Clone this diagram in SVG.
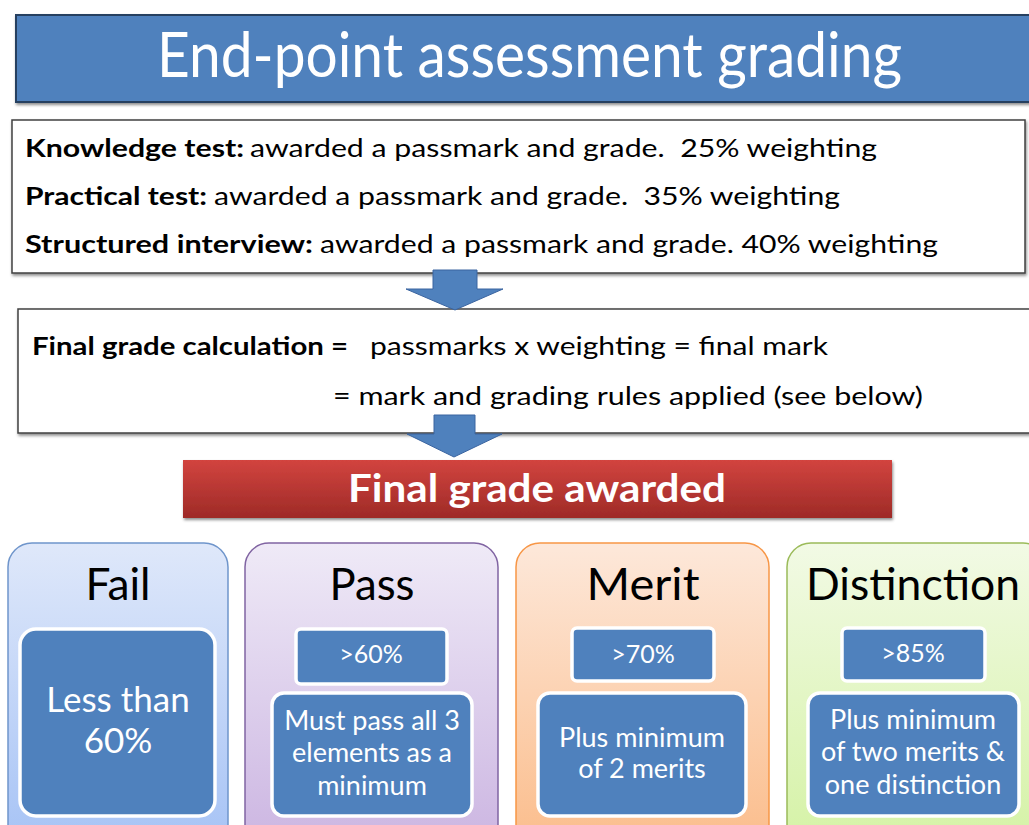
<svg xmlns="http://www.w3.org/2000/svg" width="1029" height="825" viewBox="0 0 1029 825">
<style>
.t{font-family:Lato,"Open Sans","Liberation Sans",sans-serif;}
.body{font-size:25px;fill:#000;white-space:pre;}
.b{font-weight:bold;}
.w{fill:#fff;}
.gt{font-size:44px;fill:#000;text-anchor:middle;}
.in{fill:#4F81BD;stroke:#fff;stroke-width:3.5;}
.lbl{font-size:27px;fill:#fff;text-anchor:middle;}
.pct{font-size:25px;}
.big{font-size:35px;}
.arr{fill:#4F81BD;stroke:#3A64A0;stroke-width:1;}
</style>
<defs>
<filter id="sh" x="-5%" y="-10%" width="110%" height="130%">
<feDropShadow dx="1" dy="2" stdDeviation="1.5" flood-color="#000" flood-opacity="0.45"/>
</filter>
<linearGradient id="gRed" x1="0" y1="0" x2="0" y2="1">
<stop offset="0" stop-color="#D2443F"/><stop offset="1" stop-color="#9E2A27"/>
</linearGradient>
<linearGradient id="gFail" x1="0" y1="0" x2="0" y2="1">
<stop offset="0" stop-color="#DFE8FA"/><stop offset="1" stop-color="#A5C2F5"/>
</linearGradient>
<linearGradient id="gPass" x1="0" y1="0" x2="0" y2="1">
<stop offset="0" stop-color="#EFEAF7"/><stop offset="1" stop-color="#CBB4E1"/>
</linearGradient>
<linearGradient id="gMerit" x1="0" y1="0" x2="0" y2="1">
<stop offset="0" stop-color="#FDE8DA"/><stop offset="1" stop-color="#FBBC8A"/>
</linearGradient>
<linearGradient id="gDist" x1="0" y1="0" x2="0" y2="1">
<stop offset="0" stop-color="#F2FAE5"/><stop offset="1" stop-color="#D4F2A4"/>
</linearGradient>
</defs>

<g id="title">
<rect x="16" y="15" width="1030" height="87" fill="#4F81BD" stroke="#263F60" stroke-width="2" filter="url(#sh)"/>
<text class="t w" x="157" y="77" font-size="61" textLength="745" lengthAdjust="spacingAndGlyphs">End-point assessment grading</text>
</g>

<g id="tests">
<rect x="12" y="120" width="1013" height="153" fill="#fff" stroke="#404040" stroke-width="1.5" filter="url(#sh)"/>
<text class="t body b" x="25" y="157" textLength="219" lengthAdjust="spacingAndGlyphs">Knowledge test:</text>
<text class="t body" x="250" y="157" textLength="627" lengthAdjust="spacingAndGlyphs">awarded a passmark and grade.  25% weighting</text>
<text class="t body b" x="25" y="205" textLength="182" lengthAdjust="spacingAndGlyphs">Practical test:</text>
<text class="t body" x="214" y="205" textLength="626" lengthAdjust="spacingAndGlyphs">awarded a passmark and grade.  35% weighting</text>
<text class="t body b" x="25" y="253" textLength="288" lengthAdjust="spacingAndGlyphs">Structured interview:</text>
<text class="t body" x="320" y="253" textLength="618" lengthAdjust="spacingAndGlyphs">awarded a passmark and grade. 40% weighting</text>
</g>

<g id="calculation">
<rect x="18" y="309" width="1030" height="124" fill="#fff" stroke="#404040" stroke-width="1.5" filter="url(#sh)"/>
<text class="t body b" x="32" y="355" textLength="316" lengthAdjust="spacingAndGlyphs">Final grade calculation =</text>
<text class="t body" x="370" y="355" textLength="458" lengthAdjust="spacingAndGlyphs">passmarks x weighting = final mark</text>
<text class="t body" x="333" y="405" textLength="590" lengthAdjust="spacingAndGlyphs">= mark and grading rules applied (see below)</text>
</g>

<g id="awarded">
<rect x="183" y="460" width="709" height="58" fill="url(#gRed)" filter="url(#sh)"/>
<text class="t w b" x="348" y="502" font-size="39" textLength="378" lengthAdjust="spacingAndGlyphs">Final grade awarded</text>
</g>

<g id="connectors">
<polygon class="arr" points="433,270 477,270 477,289 503,289 455,310 406,289 433,289"/>
<polygon class="arr" points="434,415 475,415 475,434 502,434 454,457 407,434 434,434"/>
</g>

<g id="fail">
<rect x="8" y="543" width="220" height="310" rx="24" fill="url(#gFail)" stroke="#6F95CB" stroke-width="1.5"/>
<text class="t gt" x="118" y="600" textLength="65" lengthAdjust="spacingAndGlyphs">Fail</text>
<rect class="in" x="20" y="629" width="195" height="187" rx="16"/>
<text class="t lbl big" x="118" y="712">Less than</text>
<text class="t lbl big" x="118" y="753">60%</text>
</g>

<g id="pass">
<rect x="245" y="543" width="253" height="310" rx="24" fill="url(#gPass)" stroke="#8064A2" stroke-width="1.5"/>
<text class="t gt" x="372" y="600" textLength="85" lengthAdjust="spacingAndGlyphs">Pass</text>
<rect class="in" x="296" y="629" width="151" height="55" rx="5"/>
<text class="t lbl pct" x="371" y="663">&gt;60%</text>
<rect class="in" x="272" y="693" width="200" height="123" rx="12"/>
<text class="t lbl" x="372" y="730">Must pass all 3</text>
<text class="t lbl" x="372" y="762">elements as a</text>
<text class="t lbl" x="372" y="795">minimum</text>
</g>

<g id="merit">
<rect x="516" y="543" width="253" height="310" rx="24" fill="url(#gMerit)" stroke="#F79646" stroke-width="1.5"/>
<text class="t gt" x="643" y="600" textLength="113" lengthAdjust="spacingAndGlyphs">Merit</text>
<rect class="in" x="572" y="628" width="142" height="53" rx="5"/>
<text class="t lbl pct" x="643" y="663">&gt;70%</text>
<rect class="in" x="538" y="693" width="208" height="123" rx="12"/>
<text class="t lbl" x="642" y="747">Plus minimum</text>
<text class="t lbl" x="642" y="778">of 2 merits</text>
</g>

<g id="distinction">
<rect x="787" y="543" width="260" height="310" rx="24" fill="url(#gDist)" stroke="#9BBB59" stroke-width="1.5"/>
<text class="t gt" x="913" y="600" textLength="214" lengthAdjust="spacingAndGlyphs">Distinction</text>
<rect class="in" x="842" y="628" width="143" height="53" rx="5"/>
<text class="t lbl pct" x="913" y="662">&gt;85%</text>
<rect class="in" x="808" y="693" width="211" height="123" rx="12"/>
<text class="t lbl" x="913" y="729">Plus minimum</text>
<text class="t lbl" x="913" y="761">of two merits &amp;</text>
<text class="t lbl" x="913" y="794">one distinction</text>
</g>
</svg>
